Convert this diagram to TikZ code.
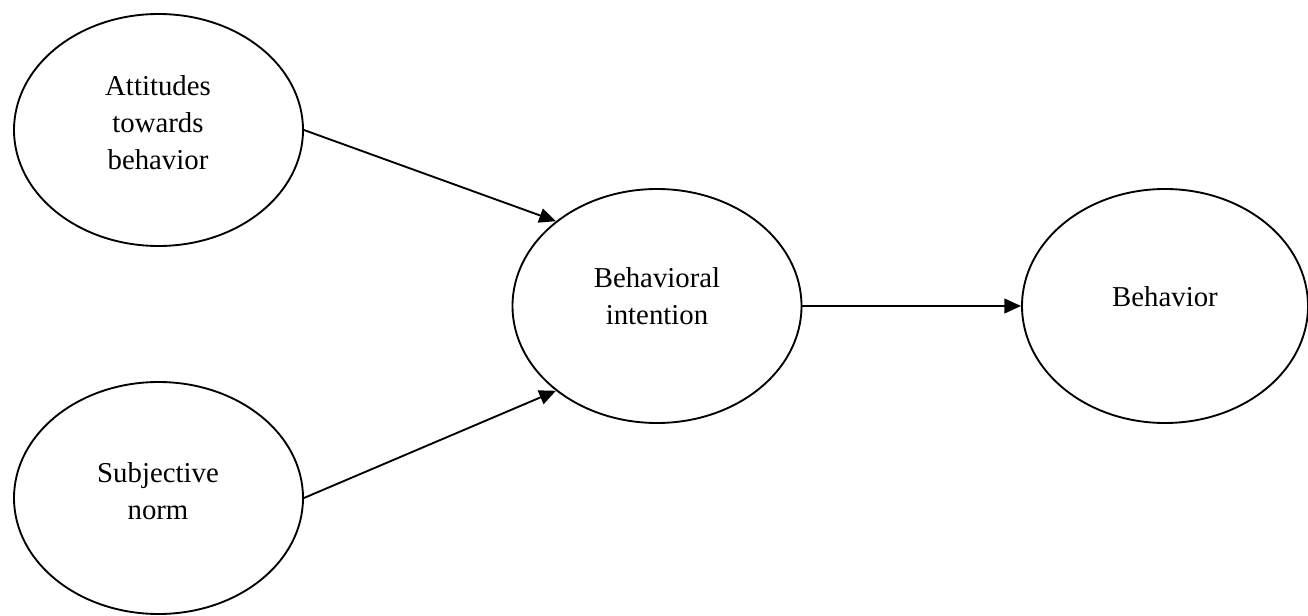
\documentclass[tikz,border=0pt]{standalone}
\usepackage{fontspec}
\setmainfont{Liberation Serif}
\usetikzlibrary{shapes.geometric,arrows.meta}

\begin{document}
\begin{tikzpicture}[x=0.75pt,y=-0.75pt,
  construct/.style={draw=black, line width=1.4pt, ellipse, inner sep=0pt,
    minimum width=216.75pt, minimum height=174pt},
  label text/.style={align=center, inner sep=0pt,
    font=\fontsize{21.6}{27.75}\selectfont},
  link/.style={draw=black, line width=1.4pt,
    -{Triangle[length=12.5pt,width=11pt]}}]
  \useasboundingbox (0,0) rectangle (1308,616);

  % constructs
  \node[construct] (att) at (158.5,130) {};
  \node[construct] (sn)  at (158.5,498) {};
  \node[construct, minimum height=175.5pt] (bi)  at (657,306) {};
  \node[construct, minimum width=214.5pt, minimum height=175.5pt] (beh) at (1165,306) {};

  % labels
  \node[label text] (attT) at (158,123) {Attitudes\\towards\\behavior};
  \node[label text] (snT)  at (158,491) {Subjective\\norm};
  \node[label text] (biT)  at (657,296) {Behavioral\\intention};
  \node[label text] (behT) at (1165,297) {Behavior};

  % paths
  \draw[link] (att.east) -- (bi.140.5);
  \draw[link] (sn.east) -- (bi.220.4);
  \draw[link] (bi.east) -- (beh.west);
\end{tikzpicture}
\end{document}
